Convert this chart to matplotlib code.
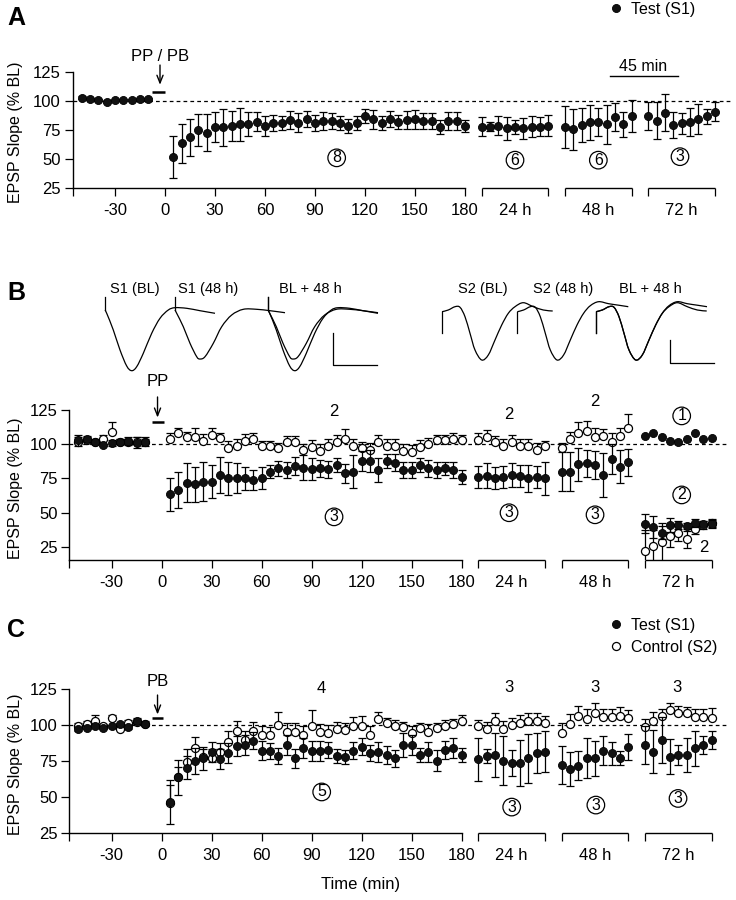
import numpy as np
import matplotlib
matplotlib.use('Agg')
import matplotlib.pyplot as plt
from matplotlib.lines import Line2D
from matplotlib.path import Path
from matplotlib.patches import PathPatch

plt.rcParams['font.family'] = ['Liberation Sans', 'DejaVu Sans']
plt.rcParams['axes.unicode_minus'] = False

# ---------------- data ----------------
base_t = [-50, -45, -40, -35, -30, -25, -20, -15, -10]
post_t = list(range(5, 181, 5))
sess_t = [0, 5, 10, 15, 20, 25, 30, 35, 40]
sessions = ['24 h', '48 h', '72 h']

# Panel A (Test S1)
A_base = [103, 102, 100.5, 99.5, 100.5, 100.5, 101, 102, 102]
A_base_err = [1.0, 0.8, 0.9, 1.0, 0.7, 0.8, 0.9, 1.0, 0.8]
A_post = [52, 63.5, 68.7, 75, 72.7, 77.3, 77.3, 78.4, 79.9, 80.2, 82.2, 78.4,
          81.3, 81.3, 83.6, 81.3, 84.2, 81.3, 82.8, 82.8, 81.3, 78.4, 81.3, 87,
          84.2, 81.3, 84.2, 82.2, 83.6, 84.2, 83, 82.8, 77.9, 82.8, 82.8, 78.4]
A_post_err = [18, 17, 16, 14, 16, 13, 16, 13, 14, 10, 8, 9, 7, 6, 8, 8, 7, 7,
              8, 7, 6, 6, 6, 6, 8, 6, 7, 6, 8, 8, 7, 7, 6, 8, 8, 5]
A_24 = [77.9, 77.9, 78.7, 76.4, 77.9, 76.4, 77.9, 77.9, 78.7]
A_24_err = [8.5, 4, 8, 10, 6, 9, 9, 8, 9]
A_48 = [77.3, 75.6, 79.3, 81.6, 81.6, 79.9, 85.9, 79.9, 87]
A_48_err = [18, 17.5, 14.5, 15, 12, 17, 12, 11, 14]
A_72 = [87, 83, 90, 79.3, 80.7, 81.6, 84.2, 87, 90.8]
A_72_err = [12, 16, 16, 11, 9, 12, 13, 6.5, 8]

# Panel B (PP)
B_base_test = [103, 104, 102, 99.5, 101, 102, 102.5, 101, 102]
B_base_test_err = [4, 2, 1, 1, 2, 2, 3, 4, 3]
B_base_ctrl = [102, 103, 101.5, 104, 109, 101.5, 101.5, 102, 101.5]
B_base_ctrl_err = [3, 2, 2, 3, 7, 2, 2, 3, 2]
B_post_test = [63.4, 66.6, 72, 70.7, 72.7, 72.7, 77.6, 75.1, 75.1, 75.1, 73.9, 75.6,
               80, 82.4, 81.2, 84.1, 83, 81.7, 82.4, 81.7, 84.9, 78.8, 80, 87.8,
               87.8, 81.2, 87.8, 86.6, 81.2, 81.2, 84.9, 82.4, 81.2, 82.4, 81.2, 76.3]
B_post_test_err = [12, 13, 14, 13, 14, 12, 13, 12, 11, 8.5, 7, 8, 5, 5.5, 6, 6.5, 9, 8,
                   6, 6, 5, 7, 12, 7, 8, 9, 5, 6, 6, 5.5, 5, 6, 5.5, 5, 6, 5]
B_post_ctrl = [104, 108, 105, 105.5, 102.5, 107, 104.5, 97.5, 98.5, 102.5, 103.5, 98.5,
               98.5, 97, 102, 102, 96, 98, 95, 98.5, 102, 104, 98.5, 97,
               96, 102, 99, 99, 95, 94.5, 98, 100.5, 103, 103, 104, 103]
B_post_ctrl_err = [4, 4, 4, 6, 5, 5, 4, 5, 5, 5, 5, 4, 4, 4, 4, 4, 4, 5,
                   5, 5, 5, 7, 5, 5, 5, 5, 5, 5, 5, 5, 5, 4, 4, 4, 4, 4]
B_24_test = [76.3, 77, 75.6, 76.3, 77.6, 77, 75, 76, 75]
B_24_test_err = [8, 9, 8, 8, 9, 8, 10, 8, 12]
B_24_ctrl = [103, 105.5, 102, 98.5, 102, 98.5, 98.5, 96, 98.5]
B_24_ctrl_err = [5, 5, 4, 5, 5, 5, 5, 5, 4]
B_48_test = [80, 80, 85.4, 86.1, 84.9, 77.6, 89.3, 83.7, 86.8]
B_48_test_err = [14, 14, 12, 10, 10, 16, 11, 12, 10]
B_48_ctrl = [97, 104, 108, 110, 105.5, 106, 102, 106, 112]
B_48_ctrl_err = [4, 5, 8, 7, 6, 5, 6, 6, 10]
B_72_test_n1 = [106, 108, 105, 102.5, 101.5, 103.5, 108, 103.5, 104.5]
B_72_test_n2 = [42, 39.5, 35.5, 41.2, 41.2, 40.4, 42.6, 42.1, 41.8]
B_72_test_n2_err = [7, 8, 5, 5, 3, 2, 3, 2, 3]
B_72_ctrl_n2 = [22.3, 25.7, 28.8, 33, 35.1, 30.6, 38.2, 41, 42.5]
B_72_ctrl_n2_err = [15, 12, 14, 8, 6, 6, 4, 3, 3]

# Panel C (PB)
C_base_test = [97, 98, 99.5, 98, 99, 100.5, 98.5, 102.5, 100.5]
C_base_test_err = [1, 1, 1, 1, 1, 1, 1, 2, 1]
C_base_ctrl = [99.5, 101, 103, 99, 105, 97, 101.5, 102, 100.5]
C_base_ctrl_err = [2, 2, 4, 2, 2, 2, 2, 3, 2]
C_post_test = [46.5, 63.7, 70.4, 75.3, 76.9, 81.5, 76.2, 80.8, 85.4, 86.1, 89.1, 82.2,
               82.2, 78.5, 86.1, 76.9, 83.8, 82.2, 82.2, 82.7, 78.5, 77.6, 82.2, 85,
               80.8, 81.5, 79.2, 76.9, 86.1, 86.1, 79.2, 81.5, 75.3, 82.7, 83.8, 79.2]
C_post_test_err = [15, 12, 8, 9, 8, 7, 7, 7, 7, 7, 6, 6.5, 5.5, 5.5, 7, 6.5, 7, 7,
                   7, 5.5, 5, 5, 6, 6, 5.5, 7, 6, 6, 8, 7, 5, 7, 7, 6, 7, 5]
C_post_ctrl = [46, 64, 74, 84, 77.5, 77.4, 81.5, 88.5, 96, 89.8, 96, 93,
               93.3, 100, 95.4, 95.4, 93, 99.5, 95, 94.2, 97.2, 96.5, 99.3, 99.3,
               93, 104, 101.2, 99.3, 98.4, 94.2, 97.7, 95.4, 97.7, 99.3, 100.5, 102.8]
C_post_ctrl_err = [12, 7, 9, 8, 6, 6, 6, 7, 7, 6, 6, 6, 5, 9, 6, 6, 6, 11,
                   6, 6, 5, 5, 6, 7, 6, 5, 4, 4, 4, 5, 4, 5, 4, 4, 4, 4]
C_24_test = [76.2, 78.5, 79.2, 75.3, 73.9, 73.9, 76.9, 80.4, 81.5]
C_24_test_err = [15, 5, 15, 17, 9, 16, 17, 14, 14]
C_24_ctrl = [99.3, 97, 103, 97, 100, 101.6, 103, 103, 101.2]
C_24_ctrl_err = [4, 5, 5, 6, 5, 5, 5, 5, 5]
C_48_test = [72.3, 69.3, 71.6, 76.9, 76.9, 82.2, 80.4, 76.9, 85]
C_48_test_err = [13, 12, 10, 14, 12, 10, 8, 5, 9]
C_48_ctrl = [94.7, 100.7, 106.2, 103.9, 108, 105.3, 105.3, 106.2, 104.6]
C_48_ctrl_err = [7, 7, 7, 7, 7, 6, 6, 6, 6]
C_72_test = [86.1, 81.5, 89.6, 78, 79.2, 79.2, 83.8, 86.1, 89.6]
C_72_test_err = [13, 15, 16, 12, 7, 12, 12, 6, 6]
C_72_ctrl = [98.4, 103, 106.2, 110.4, 108.5, 108.5, 105.8, 105.8, 104.6]
C_72_ctrl_err = [6, 6, 5, 5, 5, 4, 5, 5, 7]

# sample EPSP waveforms (stimulus artifact, then response)
S1_art = [-13, 0]
S1_BL_dx = [0, 1.7, 8.3, 15, 21.7, 26.7, 31.7, 38.3, 46.7, 55, 63.3, 70, 81.7, 95, 110]
S1_BL_dy = [0, 3.3, 20, 40, 56, 60.7, 56.7, 43.3, 23.3, 8.3, 0, -2.3, -1.7, 0.7, 3.3]
S1_48_dx = [0, 1.7, 8.3, 15, 21.7, 25, 30, 38.3, 46.7, 56.7, 68.3, 81.7, 95, 110]
S1_48_dy = [0, 3.3, 16.7, 33.3, 46.7, 49, 46.7, 33.3, 16.7, 5, -0.7, -0.7, 0.7, 2.7]
S2_art = [21.6, 0]
S2_BL_dx = [0, 6.3, 13, 18, 23, 28, 33, 39.7, 46.3, 53, 59.7, 66.3, 73, 81.3, 91.3, 101.3, 110.7]
S2_BL_dy = [0, -1.7, -5, -4.4, 5, 21.6, 38.3, 48.3, 43.3, 28.3, 13.3, 1.6, -5, -9, -5, -1.7, -0.7]
S2_48_dx = [0, 6.3, 13, 18, 23, 28, 33, 39.7, 46.3, 53, 59.7, 66.3, 73, 81.3, 91.3, 101.3, 111]
S2_48_dy = [0, -1.7, -5, -4.4, 5, 21.6, 38.3, 48.3, 43.3, 28.3, 13.3, 1.6, -6, -10, -8, -6.5, -5]

# ---------------- layout ----------------
W, H = 736, 900
fig = plt.figure(figsize=(W / 100, H / 100), dpi=100)

XMIN, XMAX = -55.5, 340
PXPM = 5 / 3
SESS_X = {'24 h': 190, '48 h': 240, '72 h': 290}
TICKLEN, TICKPAD = 5.5, 5
FS_TICK = 12

FILLED = dict(marker='o', ls='none', ms=5.8, mfc='#111111', mec='black', mew=0.6)
OPEN = dict(marker='o', ls='none', ms=5.8, mfc='white', mec='black', mew=0.9)
EB = dict(fmt='none', ecolor='black', elinewidth=0.9, capsize=3.2, capthick=0.9)


def fig_rect(left, right, top, bottom):
    return [left / W, 1 - bottom / H, (right - left) / W, (bottom - top) / H]


def make_ax(x0, top, bottom, ylo):
    left = x0 + XMIN * PXPM
    right = x0 + XMAX * PXPM
    ax = fig.add_axes(fig_rect(left, right, top, bottom))
    ax.patch.set_visible(False)
    ax.set_xlim(XMIN, XMAX)
    ax.set_ylim(ylo, 125)
    for s in ['top', 'right']:
        ax.spines[s].set_visible(False)
    ax.spines['left'].set_bounds(ylo, 125)
    ax.spines['bottom'].set_bounds(XMIN, 180)
    for s in ['left', 'bottom']:
        ax.spines[s].set_linewidth(1.0)
    ax.set_xticks([-30, 0, 30, 60, 90, 120, 150, 180])
    ax.set_xticks([XMIN, 190, 230, 240, 280, 290, 330], minor=True)
    ax.set_yticks([25, 50, 75, 100, 125])
    ax.tick_params(axis='both', which='both', direction='out', length=TICKLEN,
                   width=0.9, labelsize=FS_TICK, pad=TICKPAD)
    ax.tick_params(axis='y', pad=3)
    for lab in sessions:
        s = SESS_X[lab]
        ax.plot([s, s + 40], [ylo, ylo], color='black', lw=1.0, clip_on=False,
                solid_capstyle='butt')
        ax.annotate(lab, xy=(s + 20, 0), xycoords=('data', 'axes fraction'),
                    xytext=(0, -(TICKLEN + TICKPAD)), textcoords='offset points',
                    ha='center', va='top', fontsize=FS_TICK)
    ax.axhline(100, color='black', lw=0.9, ls=(0, (3, 2.5)), zorder=1)
    ax.set_ylabel('EPSP Slope (% BL)', fontsize=11.5)
    ax.yaxis.set_label_coords((23 - left) / (right - left), 0.48)
    return ax


def series(ax, x, y, err=None, filled=True, upper=False, z=3):
    if err is not None:
        e = np.asarray(err, dtype=float)
        yerr = [np.zeros_like(e), e] if upper else e
        ax.errorbar(x, y, yerr=yerr, zorder=z, **EB)
    ax.plot(x, y, zorder=z + 0.5, clip_on=False, **(FILLED if filled else OPEN))


def sx(label):
    return [SESS_X[label] + m for m in sess_t]


def circ(ax, x, y, txt):
    ax.text(x, y, txt, ha='center', va='center', fontsize=11.5, zorder=6,
            bbox=dict(boxstyle='circle,pad=0.08', fc='white', ec='black', lw=0.9))


def stim(ax, label, x, ytxt, ytop, ytip, ybar, xbar0, xbar1):
    ax.text(x, ytxt, label, ha='center', va='center', fontsize=12, clip_on=False)
    ax.annotate('', xy=(x, ytip), xytext=(x, ytop), annotation_clip=False,
                arrowprops=dict(arrowstyle='->,head_length=0.55,head_width=0.22',
                                lw=1.0, color='black', shrinkA=0, shrinkB=0))
    ax.plot([xbar0, xbar1], [ybar, ybar], color='black', lw=1.8, clip_on=False,
            solid_capstyle='butt')


# ---------------- Panel A ----------------
axA = make_ax(165, 72, 188, 25)
series(axA, base_t, A_base, A_base_err)
series(axA, post_t, A_post, A_post_err)
series(axA, sx('24 h'), A_24, A_24_err)
series(axA, sx('48 h'), A_48, A_48_err)
series(axA, sx('72 h'), A_72, A_72_err)
circ(axA, 103, 51, '8')
circ(axA, 210, 49, '6')
circ(axA, 260, 49, '6')
circ(axA, 309, 52, '3')
stim(axA, 'PP / PB', -3, 138, 131, 114, 107.8, -7.8, 0)
axA.plot([267, 307.5], [121.5, 121.5], color='black', lw=1.0, clip_on=False)
axA.text(287, 129.5, '45 min', ha='center', va='center', fontsize=11.5)
axA.legend(handles=[Line2D([], [], **FILLED)], labels=['Test (S1)'],
           loc='upper left', bbox_to_anchor=(609 / W, 1 - 2 / H),
           bbox_transform=fig.transFigure, frameon=False, fontsize=11.5,
           handlelength=0.9, handletextpad=0.5, borderpad=0, borderaxespad=0)

# ---------------- Panel B ----------------
axB = make_ax(161.7, 410, 560, 15.5)
series(axB, base_t, B_base_ctrl, B_base_ctrl_err, filled=False, upper=True)
series(axB, base_t, B_base_test, B_base_test_err, z=4)
series(axB, post_t, B_post_ctrl, B_post_ctrl_err, filled=False, upper=True)
series(axB, post_t, B_post_test, B_post_test_err, z=4)
series(axB, sx('24 h'), B_24_ctrl, B_24_ctrl_err, filled=False, upper=True)
series(axB, sx('24 h'), B_24_test, B_24_test_err, z=4)
series(axB, sx('48 h'), B_48_ctrl, B_48_ctrl_err, filled=False, upper=True)
series(axB, sx('48 h'), B_48_test, B_48_test_err, z=4)
series(axB, sx('72 h'), B_72_test_n1, None, z=4)
series(axB, sx('72 h'), B_72_ctrl_n2, B_72_ctrl_n2_err, filled=False)
series(axB, sx('72 h'), B_72_test_n2, B_72_test_n2_err, z=4)
axB.text(103.4, 123.6, '2', ha='center', va='center', fontsize=12)
axB.text(208.4, 122, '2', ha='center', va='center', fontsize=12)
axB.text(260, 131, '2', ha='center', va='center', fontsize=12)
axB.text(325, 24.5, '2', ha='center', va='center', fontsize=12)
circ(axB, 103.4, 47, '3')
circ(axB, 208.4, 50, '3')
circ(axB, 260, 48.5, '3')
circ(axB, 312, 120.7, '1')
circ(axB, 312, 63, '2')
stim(axB, 'PP', -2.5, 145.5, 134.5, 119.5, 116.3, -5.8, 1.4)

# ---------------- Panel C ----------------
axC = make_ax(161.7, 689, 833, 25)
series(axC, base_t, C_base_ctrl, C_base_ctrl_err, filled=False, upper=True)
series(axC, base_t, C_base_test, C_base_test_err, z=4)
series(axC, post_t, C_post_ctrl, C_post_ctrl_err, filled=False, upper=True)
series(axC, post_t, C_post_test, C_post_test_err, z=4)
series(axC, sx('24 h'), C_24_ctrl, C_24_ctrl_err, filled=False, upper=True)
series(axC, sx('24 h'), C_24_test, C_24_test_err, z=4)
series(axC, sx('48 h'), C_48_ctrl, C_48_ctrl_err, filled=False, upper=True)
series(axC, sx('48 h'), C_48_test, C_48_test_err, z=4)
series(axC, sx('72 h'), C_72_ctrl, C_72_ctrl_err, filled=False, upper=True)
series(axC, sx('72 h'), C_72_test, C_72_test_err, z=4)
axC.text(96, 125.5, '4', ha='center', va='center', fontsize=12)
for xx in [208.5, 260, 309]:
    axC.text(xx, 125.7, '3', ha='center', va='center', fontsize=12)
circ(axC, 96, 53.5, '5')
circ(axC, 210, 43, '3')
circ(axC, 260.5, 44.4, '3')
circ(axC, 309.8, 49, '3')
stim(axC, 'PB', -2.5, 130.5, 120.8, 107.3, 105, -5.8, 0.8)
axC.legend(handles=[Line2D([], [], **FILLED), Line2D([], [], **OPEN)],
           labels=['Test (S1)', 'Control (S2)'],
           loc='upper left', bbox_to_anchor=(609 / W, 1 - 618 / H),
           bbox_transform=fig.transFigure, frameon=False, fontsize=11.5,
           handlelength=0.9, handletextpad=0.5, borderpad=0, borderaxespad=0,
           labelspacing=0.42)
fig.text(361 / W, 1 - 885 / H, 'Time (min)', ha='center', va='center', fontsize=12)

# ---------------- traces (panel B inset) ----------------
axT = fig.add_axes([0, 0, 1, 1])
axT.set_xlim(0, W)
axT.set_ylim(H, 0)
axT.axis('off')
axT.patch.set_visible(False)
TR = dict(color='black', lw=0.9)


def smooth_path(px, py):
    """Catmull-Rom curve through the sample points, drawn as cubic Beziers."""
    P = np.column_stack([px, py]).astype(float)
    Pext = np.vstack([P[0], P, P[-1]])
    verts = [P[0]]
    codes = [Path.MOVETO]
    for i in range(1, len(Pext) - 2):
        p0, p1, p2, p3 = Pext[i - 1], Pext[i], Pext[i + 1], Pext[i + 2]
        verts += [p1 + (p2 - p0) / 6.0, p2 - (p3 - p1) / 6.0, p2]
        codes += [Path.CURVE4] * 3
    return Path(verts, codes)


def trace(art, dx, dy, x0, y0):
    axT.plot([x0, x0], [y0 + art[0], y0 + art[1]], **TR)
    path = smooth_path(np.asarray(dx) + x0, np.asarray(dy) + y0)
    axT.add_patch(PathPatch(path, fc='none', ec='black', lw=0.9))


trace(S1_art, S1_BL_dx, S1_BL_dy, 105, 310)
trace(S1_art, S1_48_dx, S1_48_dy, 175, 310)
trace(S1_art, S1_BL_dx, S1_BL_dy, 268, 310)
trace(S1_art, S1_48_dx, S1_48_dy, 268, 310)
trace(S2_art, S2_BL_dx, S2_BL_dy, 442, 311.7)
trace(S2_art, S2_48_dx, S2_48_dy, 517.3, 311.7)
trace(S2_art, S2_BL_dx, S2_BL_dy, 596, 311.7)
trace(S2_art, S2_48_dx, S2_48_dy, 596, 311.7)
axT.plot([333, 333, 377], [333, 365, 365], **TR)
axT.plot([670, 670, 714], [340, 363, 363], **TR)
for txt, xx in [('S1 (BL)', 135), ('S1 (48 h)', 208), ('BL + 48 h', 310),
                ('S2 (BL)', 483), ('S2 (48 h)', 563), ('BL + 48 h', 650)]:
    axT.text(xx, 289, txt, ha='center', va='center', fontsize=10.5)

# panel letters
for letter, yb in [('A', 25), ('B', 300), ('C', 636.7)]:
    axT.text(7, yb, letter, ha='left', va='baseline', fontsize=18, fontweight='bold')

fig.savefig('out.png', dpi=100)
